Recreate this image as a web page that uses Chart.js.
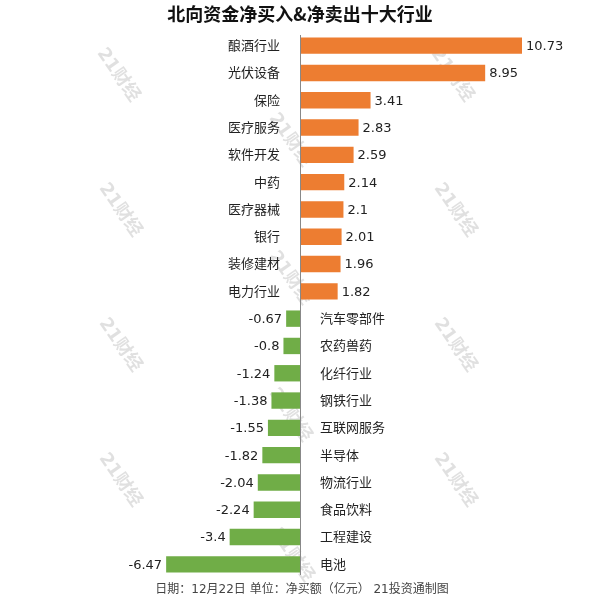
<!DOCTYPE html>
<html><head><meta charset="utf-8">
<script src="https://cdn.jsdelivr.net/npm/chart.js@4.4.0/dist/chart.umd.min.js"></script>
<style>html,body{margin:0;padding:0;background:#fff}#wrap{width:600px;height:600px}</style>
</head><body><div id="wrap"><canvas id="c" width="600" height="600"></canvas></div>
<script>
const categories = ["酿酒行业","光伏设备","保险","医疗服务","软件开发","中药","医疗器械","银行","装修建材","电力行业",
  "汽车零部件","农药兽药","化纤行业","钢铁行业","互联网服务","半导体","物流行业","食品饮料","工程建设","电池"];
const values = [10.73,8.95,3.41,2.83,2.59,2.14,2.1,2.01,1.96,1.82,
  -0.67,-0.8,-1.24,-1.38,-1.55,-1.82,-2.04,-2.24,-3.4,-6.47];
const titleText = "北向资金净买入&净卖出十大行业";
const footerText = "日期：12月22日 单位：净买额（亿元） 21投资通制图";
const watermark = "21财经";
const FONT = '"DejaVu Sans", "Noto Sans CJK SC", sans-serif';

const labelPlugin = {
  id: 'labels',
  beforeDatasetsDraw(chart) {
    const ctx = chart.ctx;
    ctx.save();
    ctx.fillStyle = 'rgba(0,0,0,0.12)';
    ctx.font = 'bold 18px ' + FONT;
    ctx.textAlign = 'center'; ctx.textBaseline = 'middle';
    const spots = [[118,75],[452,75],[290,140],[120,210],[455,210],[290,278],[120,345],[455,345],[290,415],[120,480],[455,480],[292,555]];
    spots.forEach(([x,y]) => {
      ctx.save(); ctx.translate(x,y); ctx.rotate(55*Math.PI/180);
      ctx.fillText(watermark,0,0); ctx.restore();
    });
    ctx.restore();
  },
  afterDatasetsDraw(chart) {
    const ctx = chart.ctx;
    const xs = chart.scales.x;
    const x0 = xs.getPixelForValue(0);
    ctx.save();
    ctx.strokeStyle = '#888'; ctx.lineWidth = 1;
    ctx.beginPath(); ctx.moveTo(Math.round(x0)+0.5, 35); ctx.lineTo(Math.round(x0)+0.5, 575); ctx.stroke();
    ctx.font = '13px ' + FONT;
    ctx.fillStyle = '#222';
    ctx.textBaseline = 'middle';
    const meta = chart.getDatasetMeta(0);
    values.forEach((v,i) => {
      const bar = meta.data[i];
      const y = bar.y + 1;
      if (v >= 0) {
        ctx.textAlign = 'right'; ctx.fillText(categories[i], x0 - 20, y);
        ctx.textAlign = 'left'; ctx.fillText(String(v), bar.x + 4, y);
      } else {
        ctx.textAlign = 'left'; ctx.fillText(categories[i], x0 + 20, y);
        ctx.textAlign = 'right'; ctx.fillText(String(v), bar.x - 4, y);
      }
    });
    ctx.textAlign = 'center';
    ctx.font = 'bold 18px "Noto Sans CJK SC", sans-serif'; ctx.fillStyle = '#111';
    ctx.fillText(titleText, 300, 14);
    ctx.font = '12px ' + FONT; ctx.fillStyle = '#444';
    ctx.fillText(footerText, 302, 590);
    ctx.restore();
  }
};

new Chart(document.getElementById('c'), {
  type: 'bar',
  data: {
    labels: categories,
    datasets: [{
      data: values,
      backgroundColor: values.map(v => v >= 0 ? '#ED7D31' : '#70AD47'),
      borderWidth: 0,
      barPercentage: 0.6,
      categoryPercentage: 1.0
    }]
  },
  plugins: [labelPlugin],
  options: {
    indexAxis: 'y',
    responsive: false,
    animation: false,
    devicePixelRatio: 1,
    layout: { padding: { top: 32, bottom: 22, left: 0, right: 0 } },
    plugins: { legend: { display: false }, tooltip: { enabled: false }, title: { display: false } },
    scales: {
      x: { display: false, min: -14.5, max: 14.5 },
      y: { display: false }
    }
  }
});
</script></body></html>
